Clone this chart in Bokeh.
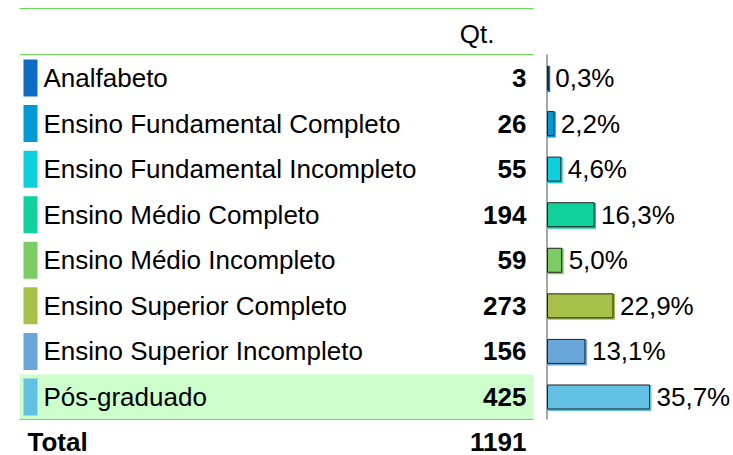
from bokeh.plotting import figure
from bokeh.models import ColumnDataSource, Range1d
from bokeh.core.properties import value
from bokeh.embed import file_html
from bokeh.resources import INLINE

categories = ["Analfabeto", "Ensino Fundamental Completo", "Ensino Fundamental Incompleto",
              "Ensino Médio Completo", "Ensino Médio Incompleto", "Ensino Superior Completo",
              "Ensino Superior Incompleto", "Pós-graduado"]
counts = [3, 26, 55, 194, 59, 273, 156, 425]
pct_labels = ["0,3%", "2,2%", "4,6%", "16,3%", "5,0%", "22,9%", "13,1%", "35,7%"]
colors = ["#0e6cc4", "#0399d4", "#0dd0dc", "#10d09c", "#7ccb64", "#a6c048", "#69a6da", "#62c0e2"]
total_label = "Total"
total_value = 1191
header = "Qt."
highlight_index = 7

FONT = value("Liberation Sans")
FS = value("26px")

ROW0 = 77.5
ROWH = 45.57
BAR_X0 = 547
PX_PER_COUNT = 0.24

n = len(categories)
yc = [ROW0 + i * ROWH for i in range(n)]
w = [c * PX_PER_COUNT for c in counts]

src = ColumnDataSource(dict(
    cat=categories,
    cnt=[str(c) for c in counts],
    pct=pct_labels,
    color=colors,
    yc=yc,
    ytop=[y - 18.5 for y in yc],
    ybot=[y + 18.5 for y in yc],
    btop=[y - 12 for y in yc],
    bbot=[y + 12 for y in yc],
    fbot=[y + 14 for y in yc],
    bright=[BAR_X0 + v for v in w],
    fright=[BAR_X0 + v + 2 for v in w],
    pctx=[BAR_X0 + v + 7 for v in w],
))

p = figure(width=733, height=455, output_backend="svg", toolbar_location=None,
           x_range=Range1d(0, 733), y_range=Range1d(455, 0), min_border=0)
p.axis.visible = False
p.grid.visible = False
p.outline_line_color = None
p.background_fill_color = "white"

# highlighted row background
hy = yc[highlight_index]
p.quad(left=19, right=533, top=hy - 22.5, bottom=hy + 22.5, fill_color="#ccffcc", line_color=None)

# green rules
green = "#66dd55"
p.segment(x0=[19, 19, 19], x1=[533, 533, 533], y0=[8, 54, hy + 22.5], y1=[8, 54, hy + 22.5],
          line_color=green, line_width=1.2)

# vertical axis line
p.segment(x0=[546.5], x1=[546.5], y0=[54], y1=[hy + 22.5], line_color="#888888", line_width=1.5)

# markers
p.quad(left=23, right=37, top="ytop", bottom="ybot", fill_color="color", line_color=None, source=src)

# bars: fill (slightly offset) and dark outline
p.quad(left=BAR_X0, right="fright", top="btop", bottom="fbot", fill_color="color", line_color=None, source=src)
p.quad(left=BAR_X0, right="bright", top="btop", bottom="bbot", fill_color=None, line_color="#222222",
       line_width=1, source=src)

# texts
p.text(x=43, y="yc", text="cat", source=src, text_font=FONT, text_font_size=FS,
       text_baseline="middle", text_align="left", text_color="black")
p.text(x=526, y="yc", text="cnt", source=src, text_font=FONT, text_font_size=FS,
       text_font_style="bold", text_baseline="middle", text_align="right", text_color="black")
p.text(x="pctx", y="yc", text="pct", source=src, text_font=FONT, text_font_size=FS,
       text_baseline="middle", text_align="left", text_color="black")

p.text(x=[494], y=[33], text=[header], text_font=FONT, text_font_size=FS,
       text_baseline="middle", text_align="right", text_color="black")
p.text(x=[27], y=[441], text=[total_label], text_font=FONT, text_font_size=FS,
       text_font_style="bold", text_baseline="middle", text_align="left", text_color="black")
p.text(x=[526], y=[441], text=[str(total_value)], text_font=FONT, text_font_size=FS,
       text_font_style="bold", text_baseline="middle", text_align="right", text_color="black")

open("out.html", "w").write(file_html(p, INLINE))
